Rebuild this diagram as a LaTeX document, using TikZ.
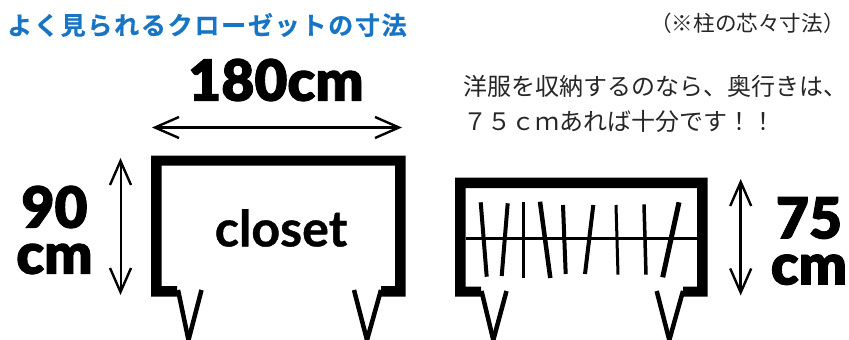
\documentclass[tikz,border=0pt]{standalone}
\usepackage{fontspec}
\usetikzlibrary{arrows.meta}
\newfontfamily\cjk{Noto Sans CJK JP}
\newfontfamily\cjktitle[LetterSpace=7,FakeBold=0.4]{Noto Sans CJK JP Bold}
\newfontfamily\bigfont[FakeBold=1.6]{Lato Black}
\newfontfamily\midfont[FakeBold=0.8]{Lato Bold}
\definecolor{titleblue}{HTML}{1874C4}
\definecolor{bodytext}{HTML}{262626}
\tikzset{
  titletext/.style={anchor=west,inner sep=0pt,text=titleblue,font=\cjktitle\fontsize{25}{25}\selectfont},
  bodyline/.style={anchor=west,inner sep=0pt,text=bodytext,font=\cjk\fontsize{24}{24}\selectfont},
  notetext/.style={anchor=west,inner sep=0pt,text=bodytext,font=\cjk\fontsize{21.6}{21.6}\selectfont},
  dimtext/.style={inner sep=0pt,text=black,align=center,font=\bigfont\fontsize{57}{46}\selectfont},
  closettext/.style={inner sep=0pt,text=black,font=\midfont\fontsize{50}{50}\selectfont},
  wall/.style={fill=black,draw=none},
  leg/.style={draw=black,line width=4.5pt,miter limit=10},
  rail/.style={draw=black,line width=3pt},
  hanger/.style={draw=black,line width=#1},
  dimarrow/.style={draw=black,line width=#1,{Straight Barb[length=24pt,width=21pt,line width=2.4pt]}-{Straight Barb[length=24pt,width=21pt,line width=2.4pt]}},
}
\begin{document}
\begin{tikzpicture}[x=1pt,y=-1pt]
\useasboundingbox[fill=white] (0,0) rectangle (849,340);

\node[titletext] (title) at (7,25) {よく見られるクローゼットの寸法};
\node[notetext] (note) at (650,23) {（※柱の芯々寸法）};
\node[bodyline] (line1) at (463,86) {洋服を収納するのなら、奥行きは、};
\node[bodyline] (line2) at (463,121) {７５ｃｍあれば十分です！！};

% dimension labels
\node[dimtext] (w180) at (276,80) {180cm};
\node[dimtext] (h90) at (54.5,230) {90\\cm};
\node[dimtext] (h75) at (809,241) {75\\cm};
\node[closettext] (closet) at (281,228) {closet};

% dimension arrows
\coordinate (wl) at (152,127.5);
\coordinate (wr) at (402,127.5);
\draw[dimarrow=2.5pt] (wl) -- (wr);
\coordinate (lt) at (120.5,158);
\coordinate (lb) at (120.5,295);
\draw[dimarrow=2pt] (lt) -- (lb);
\coordinate (rt) at (740.7,179);
\coordinate (rb) at (740.7,295.5);
\draw[dimarrow=2.5pt] (rt) -- (rb);

% left closet
\fill[wall] (151,155.5) -- (405.7,155.5) -- (405.7,296.7) -- (381,296.7) -- (381,286) -- (395,286)
  -- (395,165.7) -- (161.5,165.7) -- (161.5,286) -- (177,286) -- (177,296.7) -- (151,296.7) -- cycle;
\draw[leg] (178,290) -- (188.5,340);
\draw[leg] (201.5,290) -- (188.5,340);
\draw[leg] (354,290) -- (367,340);
\draw[leg] (381,290) -- (367,340);

% right closet
\fill[wall] (455,177.7) -- (707.7,177.7) -- (707.7,296.7) -- (683,296.7) -- (683,286.7) -- (697,286.7)
  -- (697,188) -- (465.7,188) -- (465.7,286.7) -- (481,286.7) -- (481,296.7) -- (455,296.7) -- cycle;
\draw[leg] (481.5,291) -- (493.3,340);
\draw[leg] (506.5,291) -- (493.3,340);
\draw[leg] (656.7,291) -- (669.3,340);
\draw[leg] (683,291) -- (669.3,340);

% rail and hangers
\draw[rail] (465.7,238) -- (697,238);
\draw[hanger=4pt] (480.7,202.3) -- (486.7,276.7);
\draw[hanger=4pt] (507.7,203.3) -- (501.7,276);
\draw[hanger=3.5pt] (523.7,202.3) -- (523.7,277.7);
\draw[hanger=4.5pt] (540,201.7) -- (550.3,278);
\draw[hanger=4pt] (563,205) -- (565.7,274);
\draw[hanger=4pt] (593.3,205) -- (585,274);
\draw[hanger=3pt] (616,205) -- (618,274.7);
\draw[hanger=3.5pt] (644,204.3) -- (646,274.7);
\draw[hanger=5pt] (679,202.3) -- (662.7,277.3);
\end{tikzpicture}
\end{document}
